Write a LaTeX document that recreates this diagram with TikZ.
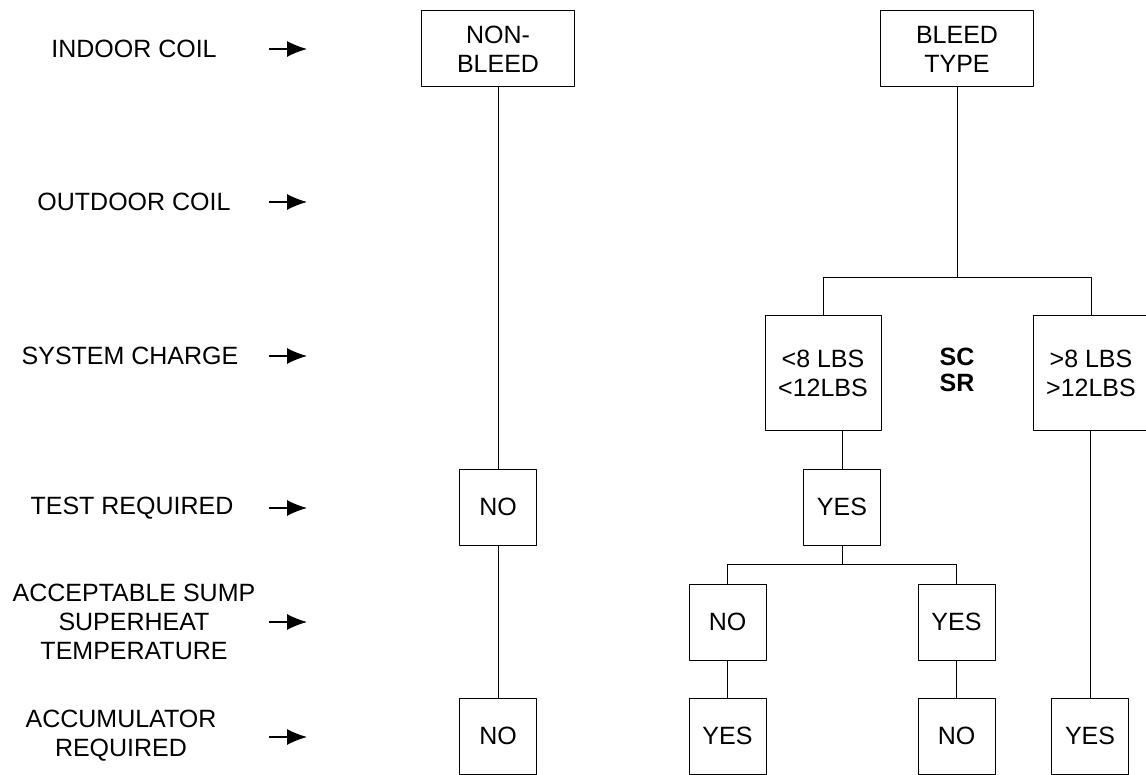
\documentclass[tikz,border=0pt]{standalone}
\usepackage{fontspec}
\setmainfont{Liberation Sans}
\usetikzlibrary{arrows.meta}
\tikzset{
  txt/.style={font=\fontsize{25}{29}\selectfont,align=center,inner sep=0pt},
  bigbox/.style={txt,draw,line width=1pt,minimum width=153pt,minimum height=76pt},
  lbsbox/.style={txt,draw,line width=1pt,minimum width=116pt,minimum height=115pt},
  ansbox/.style={txt,draw,line width=1pt,minimum width=77pt,minimum height=76pt},
  link/.style={line width=1pt},
  arr/.style={line width=1.2pt,-{Latex[length=20pt,width=16pt]}}
}
\begin{document}
\begin{tikzpicture}[x=1pt,y=-1pt,line join=round]
			\useasboundingbox (0,0) rectangle (1146,775);
			% row labels
			\node[txt] (indoor) at (134,49) {INDOOR COIL};
			\node[txt] (outdoor) at (134,202) {OUTDOOR COIL};
			\node[txt] (charge) at (130,356) {SYSTEM CHARGE};
			\node[txt] (test) at (132,508) {TEST REQUIRED};
			\node[txt] (sump) at (134,622) {ACCEPTABLE SUMP\\SUPERHEAT\\TEMPERATURE};
			\node[txt] (accum) at (121,736) {ACCUMULATOR\\REQUIRED};
			\foreach \y [count=\i] in {49,202,356,508,622,737}
				{\coordinate (r\i) at (269,\y);
				\draw[arr] (r\i) -- ++(38,0);}
			% boxes
			\node[bigbox] (nonbleed) at (498,49) {NON-\\BLEED};
			\node[bigbox] (bleed) at (957,49) {BLEED\\TYPE};
			\node[lbsbox] (lt) at (823,373.5) {<8 LBS\\<12LBS};
			\node[lbsbox] (gt) at (1091,373.5) {>8 LBS\\>12LBS};
			\node[txt,font=\fontsize{25}{26}\selectfont\bfseries] (scsr) at (957,370) {SC\\SR};
			\node[ansbox] (noT) at (498,507) {NO};
			\node[ansbox] (yesT) at (842,507) {YES};
			\node[ansbox] (noS) at (727.5,622) {NO};
			\node[ansbox] (yesS) at (956.5,622) {YES};
			\node[ansbox] (noA) at (498,736) {NO};
			\node[ansbox] (yesA) at (727.5,736) {YES};
			\node[ansbox] (noB) at (956.5,736) {NO};
			\node[ansbox] (yesB) at (1090,736) {YES};
			% connectors
			\draw[link] (nonbleed) -- (noT) -- (noA);
			\draw[link] (bleed.south) -- ++(0,190) coordinate (split);
			\draw[link] (lt.north) |- (split) -| (gt.north);
			\draw[link] (lt.south -| yesT.north) -- (yesT.north);
			\draw[link] (yesT.south) -- ++(0,19) coordinate (split2);
			\draw[link] (noS.north) |- (split2) -| (yesS.north);
			\draw[link] (noS) -- (yesA);
			\draw[link] (yesS) -- (noB);
			\draw[link] (gt.south -| yesB.north) -- (yesB.north);
		\end{tikzpicture}
\end{document}
